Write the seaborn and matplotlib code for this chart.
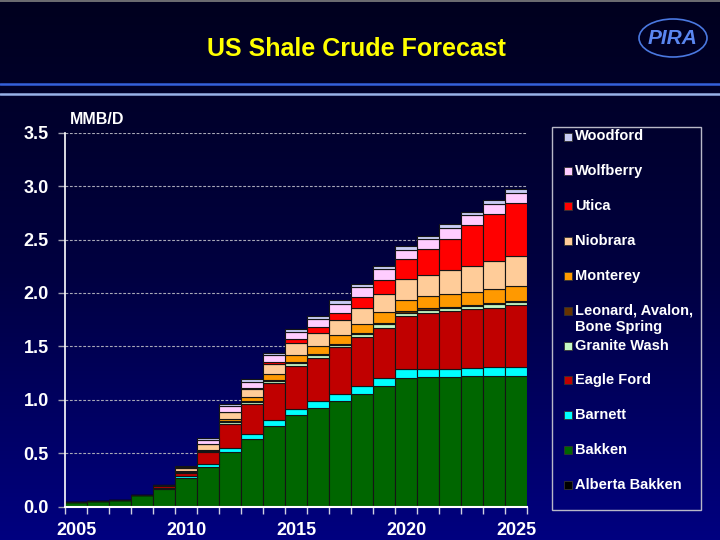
import numpy as np
import pandas as pd
import seaborn as sns
import matplotlib.pyplot as plt
from matplotlib.colors import LinearSegmentedColormap
from matplotlib.patches import Ellipse, Rectangle

# ---- data (MMB/D) ----
years = list(range(2005, 2026))

alberta_bakken = [0, 0, 0, 0, 0, 0.003, 0.004, 0.005, 0.005, 0.005, 0.005, 0.005, 0.005, 0.005, 0.005, 0.005, 0.005, 0.005, 0.005, 0.005, 0.005]
bakken = [0.041, 0.053, 0.065, 0.112, 0.165, 0.268, 0.370, 0.503, 0.628, 0.746, 0.849, 0.917, 0.980, 1.048, 1.123, 1.204, 1.207, 1.210, 1.214, 1.214, 1.219]
barnett = [0, 0, 0, 0, 0.010, 0.019, 0.026, 0.043, 0.043, 0.056, 0.062, 0.063, 0.068, 0.075, 0.078, 0.075, 0.081, 0.078, 0.080, 0.084, 0.079]
eagle_ford = [0, 0, 0, 0, 0.020, 0.025, 0.114, 0.222, 0.288, 0.346, 0.402, 0.411, 0.437, 0.461, 0.470, 0.498, 0.520, 0.536, 0.549, 0.560, 0.582]
granite_wash = [0, 0, 0, 0, 0, 0.008, 0.008, 0.021, 0.017, 0.025, 0.028, 0.028, 0.024, 0.025, 0.031, 0.035, 0.032, 0.034, 0.034, 0.031, 0.031]
leonard = [0, 0, 0, 0, 0.008, 0.006, 0.005, 0.008, 0.006, 0.006, 0.006, 0.007, 0.008, 0.008, 0.010, 0.010, 0.010, 0.010, 0.010, 0.010, 0.010]
monterey = [0, 0, 0, 0, 0, 0.006, 0.005, 0.015, 0.035, 0.056, 0.066, 0.074, 0.083, 0.092, 0.105, 0.105, 0.114, 0.115, 0.116, 0.137, 0.143]
niobrara = [0, 0, 0, 0, 0, 0.024, 0.054, 0.065, 0.078, 0.091, 0.118, 0.121, 0.146, 0.149, 0.172, 0.196, 0.203, 0.224, 0.242, 0.255, 0.274]
utica = [0, 0, 0, 0, 0, 0, 0.003, 0.008, 0.010, 0.024, 0.031, 0.060, 0.062, 0.100, 0.131, 0.187, 0.236, 0.296, 0.383, 0.446, 0.498]
wolfberry = [0, 0, 0, 0, 0, 0.010, 0.034, 0.051, 0.055, 0.063, 0.069, 0.075, 0.081, 0.093, 0.096, 0.090, 0.094, 0.103, 0.093, 0.094, 0.097]
woodford = [0, 0, 0, 0, 0, 0.010, 0.017, 0.018, 0.030, 0.025, 0.031, 0.028, 0.038, 0.032, 0.031, 0.038, 0.034, 0.031, 0.035, 0.037, 0.031]

# legend order (top to bottom); stacking is the reverse
plays = ['Woodford', 'Wolfberry', 'Utica', 'Niobrara', 'Monterey', 'Leonard, Avalon,\nBone Spring',
         'Granite Wash', 'Eagle Ford', 'Barnett', 'Bakken', 'Alberta Bakken']
series = [woodford, wolfberry, utica, niobrara, monterey, leonard,
          granite_wash, eagle_ford, barnett, bakken, alberta_bakken]
colors = ['#C8CCF4', '#FFCCFF', '#FF0000', '#FFCC99', '#FF9900', '#663300',
          '#C4F7C4', '#C00000', '#00FFFF', '#006600', '#000000']

yticks = [0.0, 0.5, 1.0, 1.5, 2.0, 2.5, 3.0, 3.5]
xlabels = [2005, 2010, 2015, 2020, 2025]

df = pd.DataFrame({
    'year': np.tile(years, len(plays)),
    'play': np.repeat(plays, len(years)),
    'mbd': np.concatenate(series),
})

sns.set_theme(style="white")
plt.rcParams['font.family'] = ['Liberation Sans', 'DejaVu Sans']

fig = plt.figure(figsize=(7.2, 5.4), dpi=100)

# background gradient + header decorations (pixel coords)
bg = fig.add_axes([0, 0, 1, 1], zorder=-10)
cmap = LinearSegmentedColormap.from_list('navy', ['#00001E', '#000040', '#000080'])
grad = np.linspace(0, 1, 256).reshape(-1, 1)
bg.imshow(grad, aspect='auto', cmap=cmap, extent=[0, 720, 540, 0])
bg.set_xlim(0, 720)
bg.set_ylim(540, 0)
bg.axis('off')
bg.plot([0, 720], [0.5, 0.5], color='#808080', lw=1.2)
bg.plot([0, 720], [84.3, 84.3], color='#3560DC', lw=1.8)
bg.plot([0, 720], [94.3, 94.3], color='#98B2E8', lw=1.8)
bg.add_patch(Ellipse((673, 38), 68, 38, fill=False, edgecolor='#4A78E0', lw=1.2))
bg.text(673, 39, 'PIRA', color='#5A86F0', fontsize=15, fontweight='bold',
        fontstyle='italic', ha='center', va='center')
bg.text(356, 49, 'US Shale Crude Forecast', color='#FFFF00', fontsize=18, fontweight='bold',
        ha='center', va='center')
bg.text(70, 120, 'MMB/D', color='white', fontsize=11.5, fontweight='bold', ha='left', va='center')

# legend drawn by hand to match the boxed layout
bg.add_patch(Rectangle((552.3, 127.3), 149, 382.7, fill=False, edgecolor='#B8B8C8', lw=1))
for i, (name, c) in enumerate(zip(plays, colors)):
    yc = 136.5 + 34.85 * i
    bg.add_patch(Rectangle((564, yc - 4), 8, 8, facecolor=c, edgecolor='#333333', lw=0.6))
    for j, line in enumerate(name.split('\n')):
        bg.text(575, yc + 16.5 * j, line, color='white', fontsize=10.5, fontweight='bold',
                ha='left', va='center')

# main chart
ax = fig.add_axes([65.3 / 720, 1 - 506.7 / 540, 462 / 720, 374 / 540])
ax.set_facecolor('none')
sns.histplot(data=df, x='year', weights='mbd', hue='play', hue_order=plays,
             palette=colors, multiple='stack', discrete=True, shrink=1, alpha=1,
             edgecolor='#151515', linewidth=0.8, legend=False, ax=ax)

ax.set_xlim(2004.5, 2025.5)
ax.set_ylim(0, 3.5)
ax.set_xlabel('')
ax.set_ylabel('')
ax.set_yticks(yticks)
ax.set_yticklabels(['%.1f' % v for v in yticks], color='white', fontsize=13, fontweight='bold')
ax.set_xticks(xlabels)
ax.set_xticklabels([str(v) for v in xlabels], color='white', fontsize=13, fontweight='bold')
ax.set_xticks(np.arange(2004.5, 2025.6, 1), minor=True)
ax.tick_params(axis='x', which='major', length=0, pad=11)
ax.tick_params(axis='x', which='minor', length=5, width=1, color='#D0D0E0', direction='out', bottom=True)
ax.tick_params(axis='y', which='major', length=5, width=1, color='#A0A0B0', pad=7, left=True)

ax.yaxis.grid(True, linestyle=(0, (2.5, 1.5)), color='#A8A8B8', lw=0.8)
ax.xaxis.grid(False)
ax.set_axisbelow(True)
for s in ['top', 'right']:
    ax.spines[s].set_visible(False)
ax.spines['left'].set_color('white')
ax.spines['left'].set_linewidth(1.2)
ax.spines['bottom'].set_color('white')
ax.spines['bottom'].set_linewidth(1.5)

plt.savefig('out.png', dpi=100, facecolor='#00001E')
